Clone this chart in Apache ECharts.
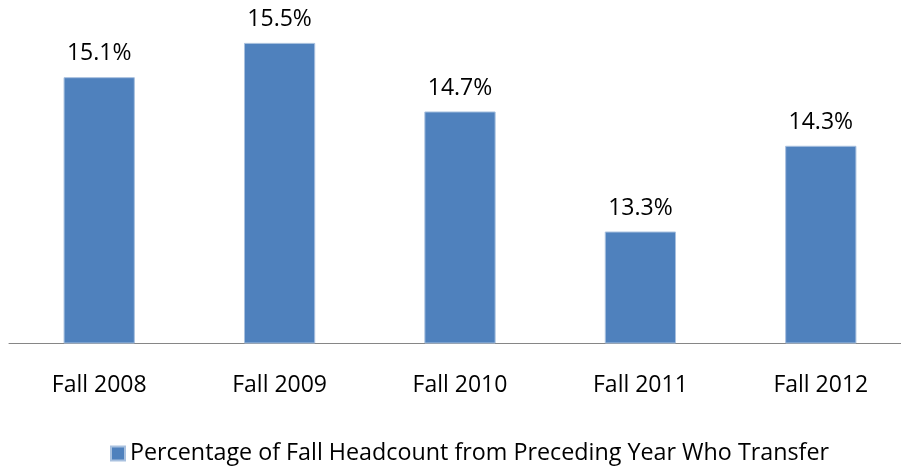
<!DOCTYPE html>
<html>
<head>
<meta charset="utf-8">
<script src="https://cdn.jsdelivr.net/npm/echarts@6/dist/echarts.min.js"></script>
<style>
  html, body { margin: 0; padding: 0; background: #fff; overflow: hidden; }
  #chart { width: 911px; height: 468px; }
</style>
</head>
<body>
<div id="chart"></div>
<script>
// 数据
const categories = ['Fall 2008', 'Fall 2009', 'Fall 2010', 'Fall 2011', 'Fall 2012']
const transferPct = [15.1, 15.5, 14.7, 13.3, 14.3]
const seriesName = 'Percentage of Fall Headcount from Preceding Year Who Transfer'

const fontFamily = '"Open Sans", "Noto Sans", sans-serif'
// 画布比窗口略宽，坐标轴延伸到右边缘之外
const myChart = echarts.init(document.getElementById('chart'))
const option = {
  animation: false,
  textStyle: { fontFamily: fontFamily },
  grid: {
    left: 9,
    right: 0,
    top: 0,
    bottom: 125
  },
  legend: {
    data: [seriesName],
    top: 437,
    left: 105,
    icon: 'rect',
    itemWidth: 14,
    itemHeight: 14,
    itemGap: 8,
    textStyle: { fontSize: 23.3, color: '#000', fontFamily: fontFamily }
  },
  xAxis: {
    type: 'category',
    data: categories,
    axisLine: { lineStyle: { color: '#868686', width: 1 } },
    axisTick: { show: false },
    axisLabel: { color: '#000', fontSize: 23, margin: 31 }
  },
  yAxis: {
    type: 'value',
    min: 12,
    max: 16,
    show: false,
    splitLine: { show: false }
  },
  series: [
    {
      name: seriesName,
      type: 'bar',
      data: transferPct,
      barWidth: '39.5%',
      itemStyle: {
        color: '#4F81BD',
        borderColor: '#a9c1df',
        borderWidth: 1
      },
      label: {
        show: true,
        position: 'top',
        distance: 12,
        color: '#000',
        fontSize: 23,
        formatter: p => p.value.toFixed(1) + '%'
      }
    }
  ]
}
option && myChart.setOption(option)
</script>
</body>
</html>
